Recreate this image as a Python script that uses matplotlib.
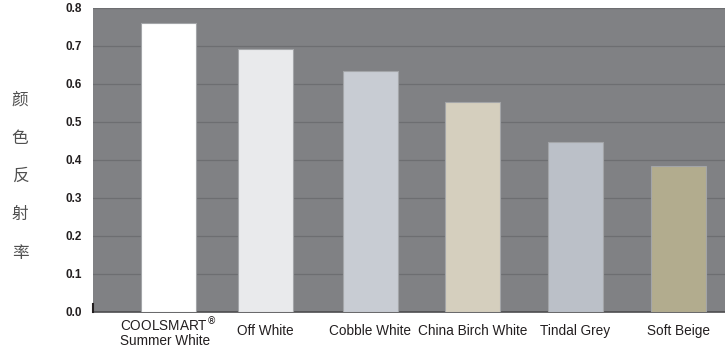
import matplotlib.pyplot as plt

plt.rcParams['font.family'] = ['Liberation Sans', 'Noto Sans CJK SC', 'DejaVu Sans']

# data
colour_names = ['COOLSMART$^{\\circledR}$\nSummer White', 'Off White', 'Cobble White',
                'China Birch White', 'Tindal Grey', 'Soft Beige']
reflectance = [0.76, 0.692, 0.634, 0.553, 0.447, 0.384]
bar_colors = ['#ffffff', '#e9eaec', '#c8ccd3', '#d5cfbe', '#bbc0c8', '#b2ac8e']
y_ticks = [0.0, 0.1, 0.2, 0.3, 0.4, 0.5, 0.6, 0.7, 0.8]
y_label = ['颜', '色', '反', '射', '率']

# bar centres (first gap in the original is a little narrower)
bar_pos = [0, 0.94, 1.956, 2.95, 3.948, 4.95]

fig = plt.figure(figsize=(7.25, 3.47), dpi=100)
ax = fig.add_axes([93 / 725, 35 / 347, 632 / 725, 304 / 347])
ax.set_facecolor('#808184')

ax.bar(bar_pos, reflectance, width=0.53, color=bar_colors, edgecolor='#a3a5a8',
       linewidth=0.8, zorder=3)

ax.set_ylim(0, 0.8)
ax.set_xlim(-0.735, 5.40)
ax.set_yticks(y_ticks)
ax.set_yticklabels(['%.1f' % v for v in y_ticks], fontweight='bold',
                   fontsize=8.5, color='#231f20')
ax.yaxis.grid(True, color='#6d6e71', linewidth=0.9, zorder=0)
ax.tick_params(axis='y', length=0, pad=8)
ax.set_xticks(bar_pos)
ax.set_xticklabels(colour_names, fontsize=9.8, color='#231f20', linespacing=1.0,
                   va='center', multialignment='left')
ax.tick_params(axis='x', length=0, pad=14)

for s in ['top', 'right', 'left']:
    ax.spines[s].set_visible(False)
ax.spines['bottom'].set_color('#4d4d4f')
ax.spines['bottom'].set_linewidth(1.2)
ax.plot([-0.735, -0.735], [0, 0.022], color='#231f20', linewidth=1.5,
        clip_on=False, zorder=4)

# vertical Chinese axis title
for i, ch in enumerate(y_label):
    fig.text(20 / 725, 1 - (100 + 38.3 * i) / 347, ch, fontsize=12,
             color='#505050', ha='center', va='center',
             family=['Noto Sans CJK SC', 'DejaVu Sans'])

fig.savefig('out.png', dpi=100)
